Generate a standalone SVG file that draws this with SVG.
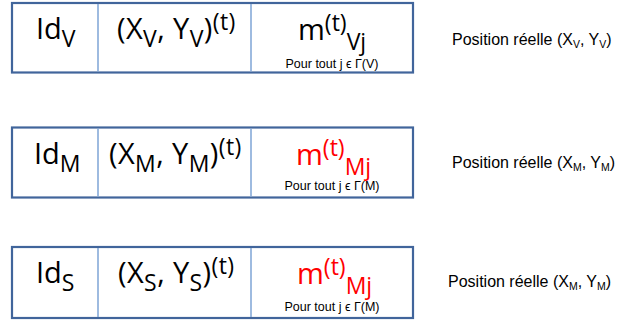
<svg xmlns="http://www.w3.org/2000/svg" width="618" height="322" viewBox="0 0 618 322">
<style>
.box{fill:#ffffff;stroke:#41659b;stroke-width:2.2}
.div{stroke:#7ea4d6;stroke-width:1.5}
.big{font-family:"Open Sans","Liberation Sans",sans-serif;font-size:29px;fill:#000}
.sub{font-size:23px}
.red{fill:#ff0000}
.small{font-family:"Liberation Sans",Arial,sans-serif;font-size:12.5px;fill:#000;text-anchor:middle}
.lbl{font-family:"Liberation Sans",Arial,sans-serif;font-size:16px;fill:#000}
.lsub{font-size:10.5px}
</style>
<rect width="618" height="322" fill="#ffffff"/>
<g id="row-v">
<rect class="box" x="12" y="3" width="401" height="69.5"/>
<line class="div" x1="98" y1="4" x2="98" y2="71.5"/>
<line class="div" x1="251" y1="4" x2="251" y2="71.5"/>
<text class="big" x="36" y="39">Id<tspan class="sub" y="47">V</tspan></text>
<text class="big" x="117" y="39" letter-spacing="0.4">(X<tspan class="sub" y="47">V</tspan><tspan y="39">, Y</tspan><tspan class="sub" y="47">V</tspan><tspan y="39">)</tspan><tspan class="sub" y="30">(t)</tspan></text>
<text class="big" x="298" y="40">m<tspan class="sub" y="31">(t)</tspan><tspan class="sub" y="50">Vj</tspan></text>
<text class="small" x="332" y="68">Pour tout j ϵ Γ(V)</text>
<text class="lbl" x="452" y="44.5">Position réelle (X<tspan class="lsub" y="47.5">V</tspan><tspan y="44.5">, Y</tspan><tspan class="lsub" y="47.5">V</tspan><tspan y="44.5">)</tspan></text>
</g>
<g id="row-m">
<rect class="box" x="12" y="127.5" width="401" height="70"/>
<line class="div" x1="98" y1="128.5" x2="98" y2="196.5"/>
<line class="div" x1="251" y1="128.5" x2="251" y2="196.5"/>
<text class="big" x="34" y="163.5">Id<tspan class="sub" y="171.5">M</tspan></text>
<text class="big" x="109" y="163.5" letter-spacing="0.4">(X<tspan class="sub" y="171.5">M</tspan><tspan y="163.5">, Y</tspan><tspan class="sub" y="171.5">M</tspan><tspan y="163.5">)</tspan><tspan class="sub" y="154.5">(t)</tspan></text>
<text class="big red" x="296" y="164.5">m<tspan class="sub" y="155.5">(t)</tspan><tspan class="sub" y="174.5" font-size="21">Mj</tspan></text>
<text class="small" x="332" y="190">Pour tout j ϵ Γ(M)</text>
<text class="lbl" x="452" y="168">Position réelle (X<tspan class="lsub" y="171">M</tspan><tspan y="168">, Y</tspan><tspan class="lsub" y="171">M</tspan><tspan y="168">)</tspan></text>
</g>
<g id="row-s">
<rect class="box" x="12" y="247" width="401" height="71"/>
<line class="div" x1="98" y1="248" x2="98" y2="317"/>
<line class="div" x1="251" y1="248" x2="251" y2="317"/>
<text class="big" x="36" y="283">Id<tspan class="sub" y="291">S</tspan></text>
<text class="big" x="118" y="283" letter-spacing="0.4">(X<tspan class="sub" y="291">S</tspan><tspan y="283">, Y</tspan><tspan class="sub" y="291">S</tspan><tspan y="283">)</tspan><tspan class="sub" y="274">(t)</tspan></text>
<text class="big red" x="297" y="284">m<tspan class="sub" y="275">(t)</tspan><tspan class="sub" y="294" font-size="21">Mj</tspan></text>
<text class="small" x="332" y="311">Pour tout j ϵ Γ(M)</text>
<text class="lbl" x="448" y="287">Position réelle (X<tspan class="lsub" y="290">M</tspan><tspan y="287">, Y</tspan><tspan class="lsub" y="290">M</tspan><tspan y="287">)</tspan></text>
</g>
</svg>
